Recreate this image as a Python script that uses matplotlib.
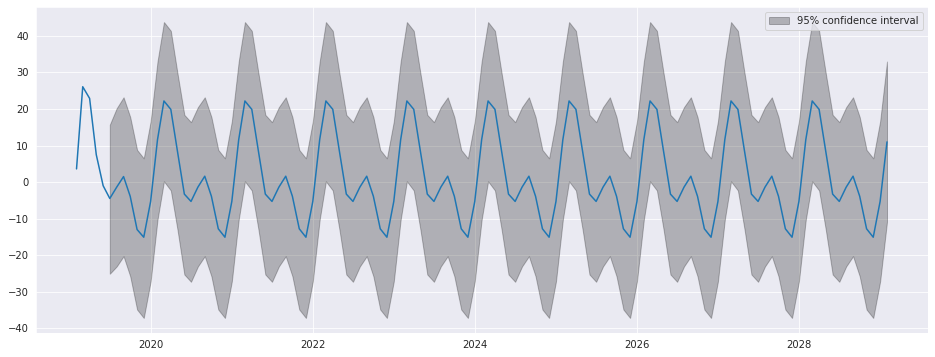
import matplotlib
matplotlib.use("Agg")
import matplotlib.pyplot as plt
import seaborn as sns
import pandas as pd

sns.set_style("darkgrid")

# monthly series: 5 observed months followed by a forecast
dates = pd.date_range("2019-01-31", periods=121, freq="ME")

values = [3.6, 26.1, 22.9, 7.5, -1.0, -4.5, -1.4, 1.5, -3.9, -13.0, -15.1, -5.3,
          11.6, 22.2, 19.9, 8.4, -3.3, -5.3, -1.4, 1.6, -3.9, -12.8, -15.1, -5.3,
          11.6, 22.2, 19.9, 8.4, -3.3, -5.3, -1.4, 1.6, -3.9, -12.8, -15.1, -5.3,
          11.6, 22.2, 19.9, 8.4, -3.3, -5.3, -1.4, 1.6, -3.9, -12.8, -15.1, -5.3,
          11.6, 22.2, 19.9, 8.4, -3.3, -5.3, -1.4, 1.6, -3.9, -12.8, -15.1, -5.3,
          11.6, 22.2, 19.9, 8.4, -3.3, -5.3, -1.4, 1.6, -3.9, -12.8, -15.1, -5.3,
          11.6, 22.2, 19.9, 8.4, -3.3, -5.3, -1.4, 1.6, -3.9, -12.8, -15.1, -5.3,
          11.6, 22.2, 19.9, 8.4, -3.3, -5.3, -1.4, 1.6, -3.9, -12.8, -15.1, -5.3,
          11.6, 22.2, 19.9, 8.4, -3.3, -5.3, -1.4, 1.6, -3.9, -12.8, -15.1, -5.3,
          11.6, 22.2, 19.9, 8.4, -3.3, -5.3, -1.4, 1.6, -3.9, -12.8, -15.1, -5.3,
          11.0]

# confidence interval starts with the forecast (6th month)
ci_start = 5
ci_upper = [15.7, 20.2, 23.2, 17.8, 8.8, 6.5, 16.6,
            33.0, 43.8, 41.4, 29.8, 18.4, 16.4, 20.5, 23.2, 17.8, 8.8, 6.5, 16.6,
            33.0, 43.8, 41.4, 29.8, 18.4, 16.4, 20.5, 23.2, 17.8, 8.8, 6.5, 16.6,
            33.0, 43.8, 41.4, 29.8, 18.4, 16.4, 20.5, 23.2, 17.8, 8.8, 6.5, 16.6,
            33.0, 43.8, 41.4, 29.8, 18.4, 16.4, 20.5, 23.2, 17.8, 8.8, 6.5, 16.6,
            33.0, 43.8, 41.4, 29.8, 18.4, 16.4, 20.5, 23.2, 17.8, 8.8, 6.5, 16.6,
            33.0, 43.8, 41.4, 29.8, 18.4, 16.4, 20.5, 23.2, 17.8, 8.8, 6.5, 16.6,
            33.0, 43.8, 41.4, 29.8, 18.4, 16.4, 20.5, 23.2, 17.8, 8.8, 6.5, 16.6,
            33.0, 43.8, 41.4, 29.8, 18.4, 16.4, 20.5, 23.2, 17.8, 8.8, 6.5, 16.6,
            33.0, 43.8, 41.4, 29.8, 18.4, 16.4, 20.5, 23.2, 17.8, 8.8, 6.5, 16.6,
            33.0]
ci_lower = [-25.1, -23.1, -20.3, -25.8, -34.9, -37.2, -27.2,
            -10.3, 0.2, -2.3, -13.0, -25.3, -27.3, -23.1, -20.3, -25.8, -34.9, -37.2, -27.2,
            -10.3, 0.2, -2.3, -13.0, -25.3, -27.3, -23.1, -20.3, -25.8, -34.9, -37.2, -27.2,
            -10.3, 0.2, -2.3, -13.0, -25.3, -27.3, -23.1, -20.3, -25.8, -34.9, -37.2, -27.2,
            -10.3, 0.2, -2.3, -13.0, -25.3, -27.3, -23.1, -20.3, -25.8, -34.9, -37.2, -27.2,
            -10.3, 0.2, -2.3, -13.0, -25.3, -27.3, -23.1, -20.3, -25.8, -34.9, -37.2, -27.2,
            -10.3, 0.2, -2.3, -13.0, -25.3, -27.3, -23.1, -20.3, -25.8, -34.9, -37.2, -27.2,
            -10.3, 0.2, -2.3, -13.0, -25.3, -27.3, -23.1, -20.3, -25.8, -34.9, -37.2, -27.2,
            -10.3, 0.2, -2.3, -13.0, -25.3, -27.3, -23.1, -20.3, -25.8, -34.9, -37.2, -27.2,
            -10.3, 0.2, -2.3, -13.0, -25.3, -27.3, -23.1, -20.3, -25.8, -34.9, -37.2, -27.2,
            -10.9]

fig, ax = plt.subplots(figsize=(935 / 72, 357 / 72), dpi=72)
ax.plot(dates, values, color="tab:blue")
ax.fill_between(dates[ci_start:], ci_lower, ci_upper, color="k", alpha=0.25,
                label="95% confidence interval")
ax.legend(loc="upper right")

# tight margins, like a bbox_inches="tight" save
fig.subplots_adjust(left=0.0385, right=0.992, top=0.9796, bottom=0.068)
plt.savefig("out.png")
